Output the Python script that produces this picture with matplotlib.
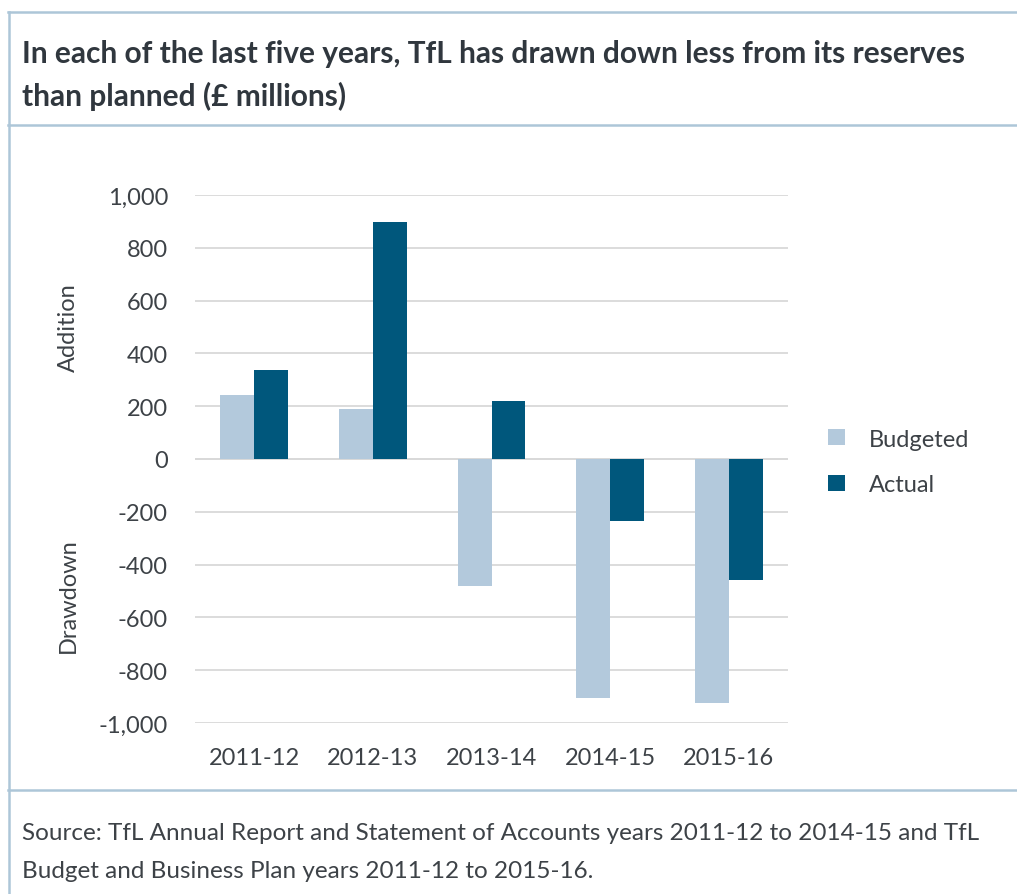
import matplotlib
matplotlib.use("Agg")
import matplotlib.pyplot as plt
from matplotlib.lines import Line2D
from matplotlib.patches import Patch
import numpy as np

# ---- data ----
categories = ["2011-12", "2012-13", "2013-14", "2014-15", "2015-16"]
budgeted = [244, 190, -482, -904, -925]
actual = [337, 896, 219, -234, -460]
series_names = ["Budgeted", "Actual"]
yticks = [-1000, -800, -600, -400, -200, 0, 200, 400, 600, 800, 1000]
title_lines = ["In each of the last five years, TfL has drawn down less from its reserves",
               "than planned (\u00a3 millions)"]
source_lines = ["Source: TfL Annual Report and Statement of Accounts years 2011-12 to 2014-15 and TfL",
                "Budget and Business Plan years 2011-12 to 2015-16."]

# ---- style ----
FONT = ["Lato", "DejaVu Sans"]
plt.rcParams["font.family"] = FONT
C_BUD = "#b3c9dc"
C_ACT = "#00577c"
C_TXT = "#3d4247"
C_TITLE = "#30373e"
C_FRAME = "#adc6d8"
C_GRID = "#d9d9d9"
FS = 17

W, H = 1017, 895
fig = plt.figure(figsize=(W / 100, H / 100), dpi=100)
fig.patch.set_facecolor("white")

def fx(px):
    return px / W

def fy(py):
    return 1 - py / H

# frame lines
lw_frame = 1.8
for y in (13, 125.5, 790.5):
    fig.add_artist(Line2D([fx(8), 1.0], [fy(y), fy(y)], color=C_FRAME, lw=lw_frame))
fig.add_artist(Line2D([fx(8.5), fx(8.5)], [fy(13), 0], color=C_FRAME, lw=lw_frame))

# axes
left, right = 195, 788
top, bottom = 196, 724
ax = fig.add_axes([fx(left), fy(bottom), fx(right) - fx(left), fy(top) - fy(bottom)])
x = np.arange(len(categories))
bw = 0.285
ax.bar(x - bw / 2, budgeted, width=bw, color=C_BUD, label=series_names[0], zorder=3)
ax.bar(x + bw / 2, actual, width=bw, color=C_ACT, label=series_names[1], zorder=3)
ax.set_xlim(-0.5, len(categories) - 0.5)
ax.set_ylim(-1000, 1000)
ax.set_yticks(yticks)
ax.set_yticklabels([f"{v:,}" for v in yticks])
ax.set_xticks(x)
ax.set_xticklabels(categories)
ax.grid(axis="y", color=C_GRID, lw=1.3, zorder=0)
ax.set_axisbelow(True)
for s in ax.spines.values():
    s.set_visible(False)
ax.tick_params(axis="both", length=0, colors=C_TXT, labelsize=FS)
ax.tick_params(axis="y", pad=19.5)
ax.tick_params(axis="x", pad=17)
ax.axhline(0, color=C_GRID, lw=1.3, zorder=2)

# side labels
fig.text(fx(68), fy(328), "Addition", rotation=90, ha="center", va="center",
         fontsize=FS, color=C_TXT)
fig.text(fx(68), fy(596), "Drawdown", rotation=90, ha="center", va="center",
         fontsize=FS, color=C_TXT)

# legend
handles = [Patch(facecolor=C_BUD), Patch(facecolor=C_ACT)]
leg = fig.legend(handles, series_names, loc="center left",
                 bbox_to_anchor=(fx(819), fy(463)), frameon=False,
                 fontsize=FS, handlelength=0.68, handleheight=0.68,
                 handletextpad=1.05, labelspacing=1.05, borderaxespad=0)
for t in leg.get_texts():
    t.set_color(C_TXT)

# title and source
t1 = fig.text(fx(22), fy(63), title_lines[0], ha="left", va="baseline",
              fontsize=19, fontweight="bold", color=C_TITLE)
t2 = fig.text(fx(22), fy(106), title_lines[1], ha="left", va="baseline",
              fontsize=19, fontweight="bold", color=C_TITLE)
s1 = fig.text(fx(22), fy(840), source_lines[0], ha="left", va="baseline",
              fontsize=15, color=C_TXT)
s2 = fig.text(fx(22), fy(878), source_lines[1], ha="left", va="baseline",
              fontsize=15, color=C_TXT)

# fit long text widths
fig.canvas.draw()
r = fig.canvas.get_renderer()
for main, other, target in ((t1, t2, 941), (s1, s2, 956)):
    w = main.get_window_extent(r).width
    fs = main.get_fontsize() * target / w
    main.set_fontsize(fs)
    other.set_fontsize(fs)

fig.savefig("out.png", dpi=100, facecolor="white")
